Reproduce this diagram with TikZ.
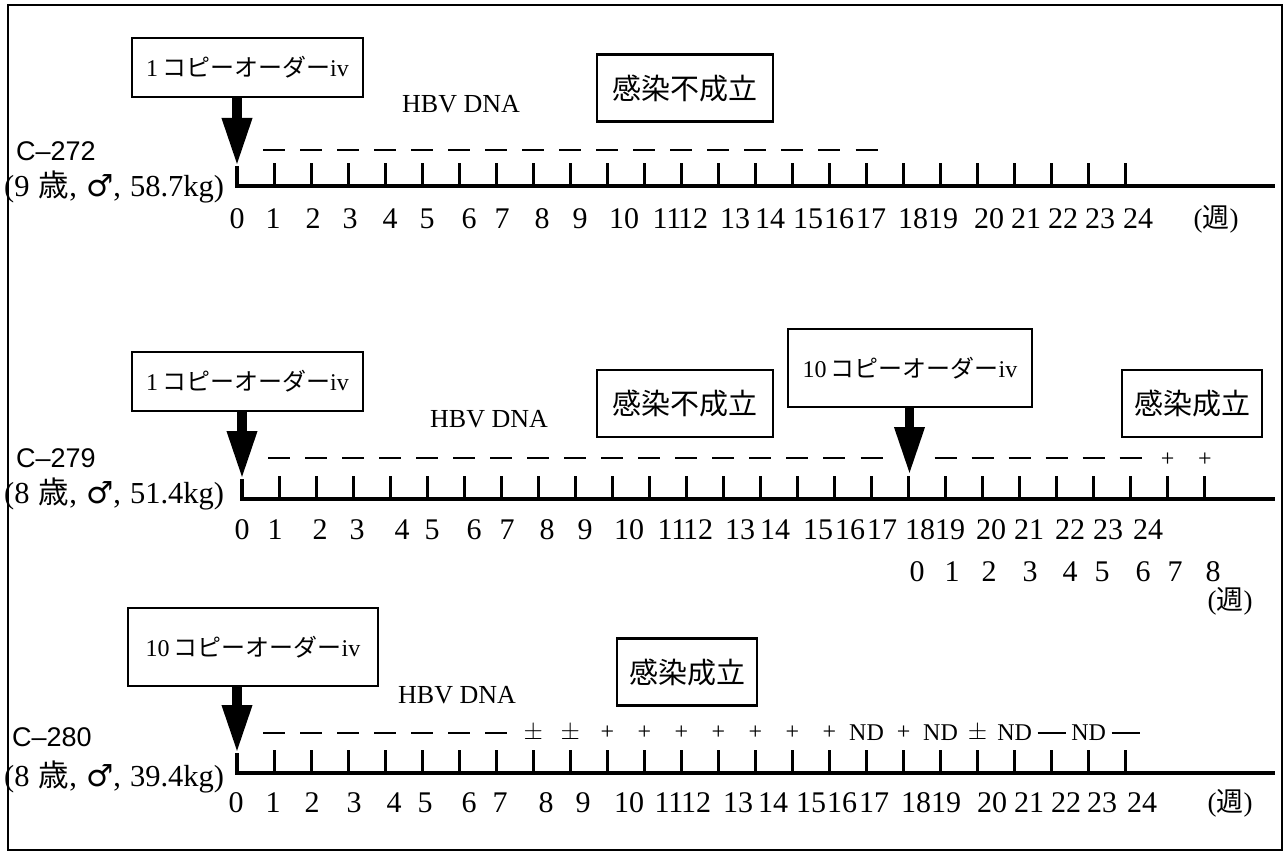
\documentclass[tikz,border=0pt]{standalone}
\usepackage{fontspec}
\setmainfont{Liberation Serif}
\newfontfamily\cjk{Noto Sans CJK JP}
\newfontfamily\hsans{Liberation Sans}
\newfontfamily\dvs{DejaVu Sans}
\usetikzlibrary{arrows.meta}
\tikzset{
  infobox/.style={draw, line width=2.2pt, inner sep=0pt, align=center},
  copytxt/.style={font=\fontsize{24}{24}\selectfont},
  resulttxt/.style={font=\cjk\fontsize{29}{29}\selectfont},
  bigarrow/.style={line width=9.5pt, -{Triangle[width=28pt,length=48pt]}},
  axisline/.style={line width=3.6pt, line join=miter},
  tickline/.style={line width=3pt},
  negmark/.style={line width=1.6pt},
  numlbl/.style={font=\fontsize{30}{30}\selectfont, inner sep=0pt},
  weeklbl/.style={font=\fontsize{27}{27}\selectfont, inner sep=0pt},
  clbl/.style={font=\hsans\fontsize{27}{27}\selectfont, inner sep=0pt, anchor=west},
  plbl/.style={font=\fontsize{30.5}{31}\selectfont, inner sep=0pt, anchor=west},
  hbvlbl/.style={font=\fontsize{26}{26}\selectfont, inner sep=0pt, anchor=west},
  marktxt/.style={font=\fontsize{24}{24}\selectfont, inner sep=0pt},
}
\newcommand{\copytext}[1]{#1\,{\cjk コピーオーダー}iv}
\newcommand{\weektext}{({\cjk 週})}
\newcommand{\ptext}[2]{(#1\hspace{0.3em}{\cjk 歳},\hspace{0.3em}{\dvs ♂},\hspace{0.3em}#2kg)}
\begin{document}
\begin{tikzpicture}[x=1pt,y=-1pt]
\useasboundingbox (0,0) rectangle (1288,864);
\draw[line width=2pt] (8,5) rectangle (1282,850);

% ================= Panel 1 =================
\node[infobox, copytxt, minimum width=231pt, minimum height=59pt] (b1) at (247.5,67.5) {\copytext{1}};
\node[infobox, resulttxt, minimum width=176pt, minimum height=67pt] (r1) at (685,88) {感染不成立};
\node[hbvlbl] (h1) at (402,104) {HBV DNA};
\node[clbl] (c1) at (16,151) {C–272};
\node[plbl] (p1) at (4,187) {\ptext{9}{58.7}};
\coordinate (a1top) at (237,166);
\coordinate (a1base) at (237,186);
\coordinate (a1end) at (1275,186);
\draw[bigarrow] (b1.south -| a1top) -- (a1top);
\draw[axisline] (a1top) -- (a1base) -- (a1end);
\foreach \i in {1,...,24} \draw[tickline] ({237+37.03*\i},186) -- ++(0,-23);
\foreach \i in {1,...,17} \draw[negmark] ({237+37.03*\i-11},150) -- ++(22,0);
\foreach \n/\x in {0/237,1/273,2/313,3/350,4/390,5/427,6/469,7/502,8/542,9/580,10/624,11/667,12/693,13/735,14/770,15/808,16/839,17/871,18/913,19/943,20/989,21/1026,22/1063,23/1100,24/1138}
  \node[numlbl] (l1-\n) at (\x,219) {\n};
\node[weeklbl] (w1) at (1216,219) {\weektext};

% ================= Panel 2 =================
\node[infobox, copytxt, minimum width=231pt, minimum height=59pt] (b2) at (247.5,381.5) {\copytext{1}};
\node[infobox, copytxt, minimum width=244pt, minimum height=78pt] (b2b) at (910,368) {\copytext{10}};
\node[infobox, resulttxt, minimum width=176pt, minimum height=67pt] (r2) at (685,403.5) {感染不成立};
\node[infobox, resulttxt, minimum width=140pt, minimum height=67pt] (r2b) at (1192,403.5) {感染成立};
\node[hbvlbl] (h2) at (430,419) {HBV DNA};
\node[clbl] (c2) at (16,458) {C–279};
\node[plbl] (p2) at (4,494) {\ptext{8}{51.4}};
\coordinate (a2top) at (242,479);
\coordinate (a2base) at (242,499);
\coordinate (a2end) at (1275,499);
\coordinate (a2btip) at (909.5,475);
\draw[bigarrow] (b2.south -| a2top) -- (a2top);
\draw[bigarrow] (b2b.south -| a2btip) -- (a2btip);
\draw[axisline] (a2top) -- (a2base) -- (a2end);
\foreach \i in {1,...,26} \draw[tickline] ({242+37.03*\i},499) -- ++(0,-23);
\foreach \i in {1,...,17,19,20,...,24} \draw[negmark] ({242+37.03*\i-11},458) -- ++(22,0);
\foreach \i in {25,26} \node[marktxt] (m2-\i) at ({242+37.03*\i},460) {+};
\foreach \n/\x in {0/242,1/275,2/320,3/357,4/402,5/432,6/474,7/507,8/547,9/585,10/629,11/672,12/698,13/740,14/775,15/818,16/850,17/882,18/920,19/950,20/991,21/1029,22/1070,23/1108,24/1148}
  \node[numlbl] (l2-\n) at (\x,530) {\n};
\foreach \n/\x in {0/917,1/952,2/989,3/1030,4/1070,5/1102,6/1143,7/1175,8/1213}
  \node[numlbl] (k2-\n) at (\x,572) {\n};
\node[weeklbl] (w2) at (1230,601) {\weektext};

% ================= Panel 3 =================
\node[infobox, copytxt, minimum width=250pt, minimum height=78pt] (b3) at (253,647) {\copytext{10}};
\node[infobox, resulttxt, minimum width=140pt, minimum height=67pt] (r3) at (687,672) {感染成立};
\node[hbvlbl] (h3) at (398,695) {HBV DNA};
\node[clbl] (c3) at (12,737) {C–280};
\node[plbl] (p3) at (4,777) {\ptext{8}{39.4}};
\coordinate (a3top) at (237,753);
\coordinate (a3base) at (237,773);
\coordinate (a3end) at (1275,773);
\draw[bigarrow] (b3.south -| a3top) -- (a3top);
\draw[axisline] (a3top) -- (a3base) -- (a3end);
\foreach \i in {1,...,24} \draw[tickline] ({237+37.03*\i},773) -- ++(0,-23);
\foreach \i in {1,...,7} \draw[negmark] ({237+37.03*\i-11},733) -- ++(22,0);
\foreach \i in {22,24} \draw[line width=2.2pt] ({237+37.03*\i-14},733) -- ++(28,0);
\foreach \i/\t in {8/$\pm$,9/$\pm$,10/+,11/+,12/+,13/+,14/+,15/+,16/+,17/ND,18/+,19/ND,20/$\pm$,21/ND,23/ND}
  \node[marktxt] (m3-\i) at ({237+37.03*\i},733) {\t};
\foreach \n/\x in {0/236,1/273,2/312,3/354,4/394,5/425,6/469,7/500,8/546,9/583,10/629,11/669,12/696,13/738,14/773,15/811,16/842,17/874,18/916,19/946,20/992,21/1029,22/1066,23/1102,24/1142}
  \node[numlbl] (l3-\n) at (\x,803) {\n};
\node[weeklbl] (w3) at (1230,803) {\weektext};
\end{tikzpicture}
\end{document}
